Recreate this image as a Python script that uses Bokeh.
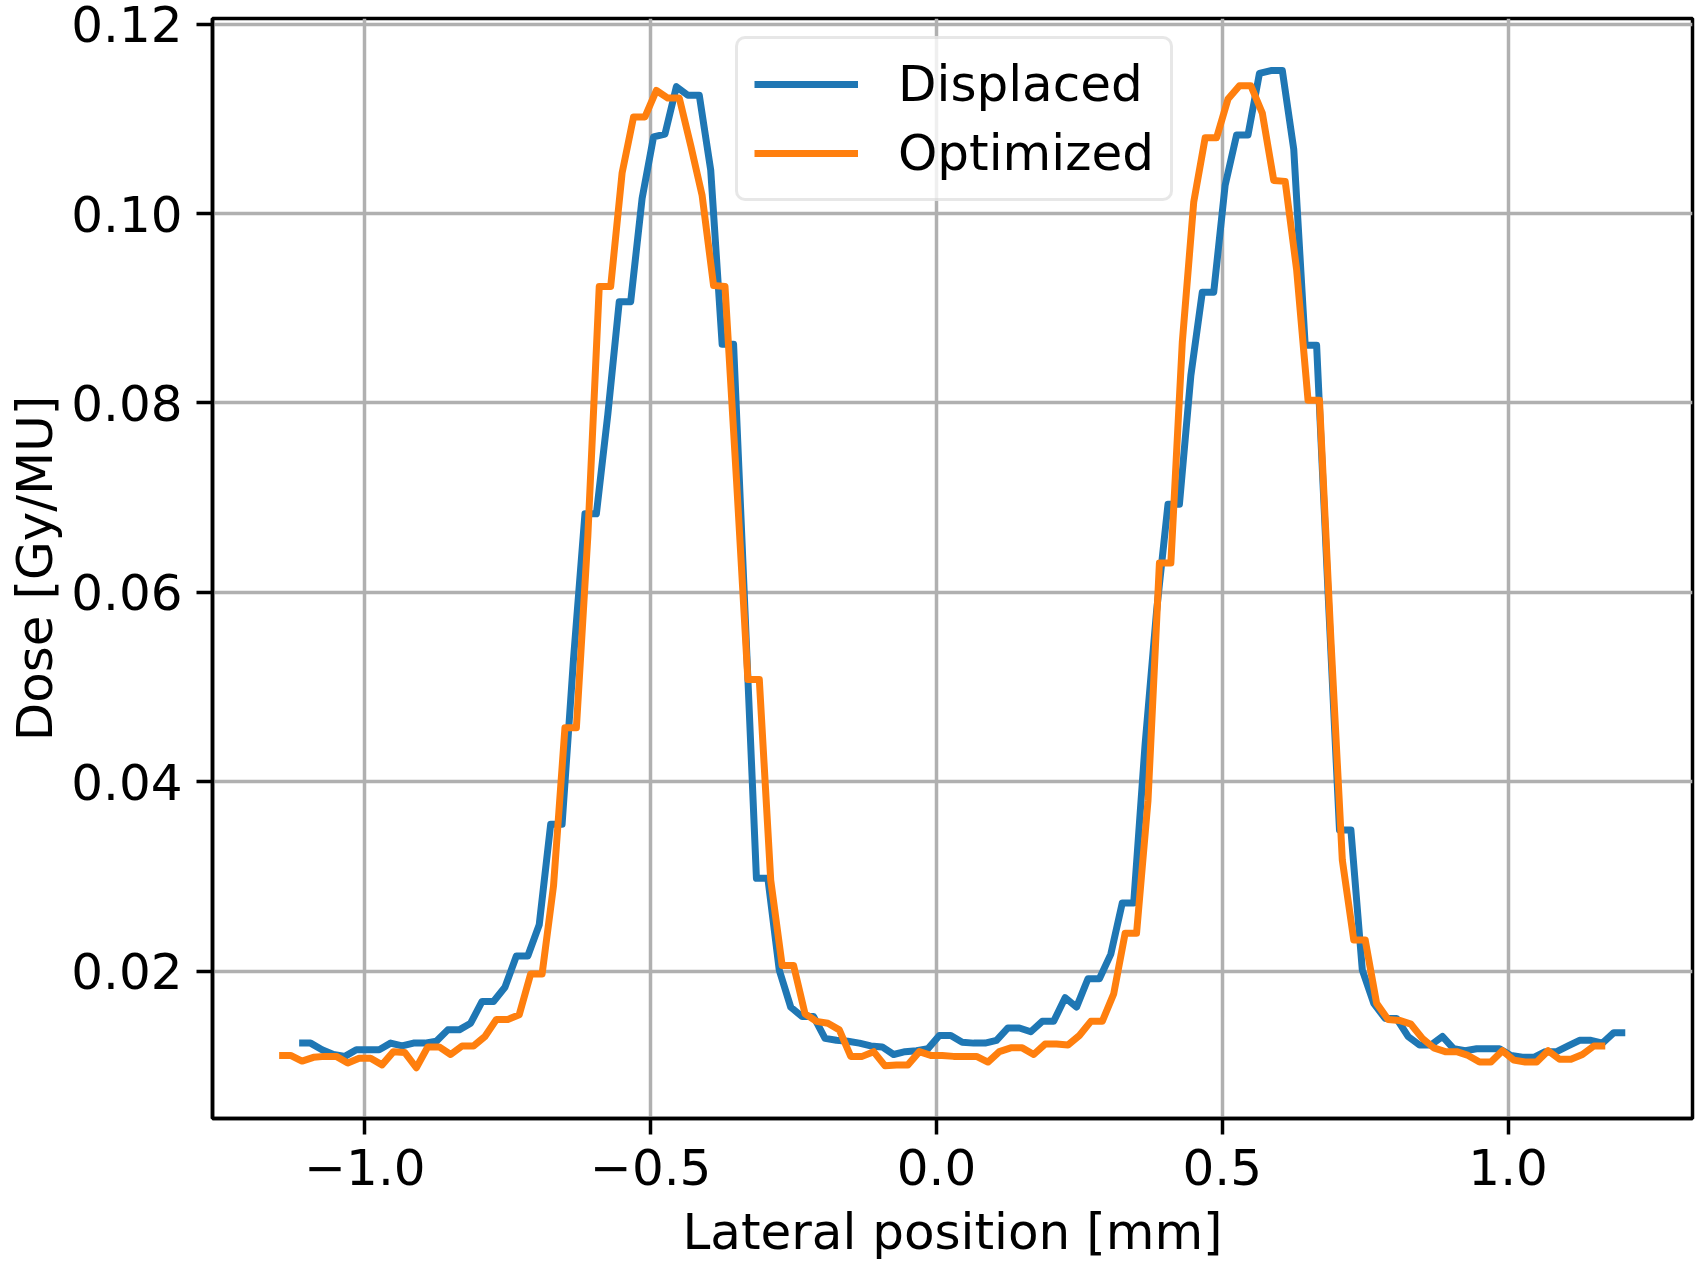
from bokeh.plotting import figure
from bokeh.models import Range1d, FixedTicker, CustomJSTickFormatter, Legend, LegendItem
from bokeh.embed import file_html
from bokeh.resources import INLINE

# Optimized profile (lateral position in mm, dose in Gy/MU)
opt_x = [
    -1.15, -1.13, -1.11, -1.09, -1.07, -1.05, -1.03, -1.01, -0.99, -0.97,
    -0.95, -0.93, -0.91, -0.89, -0.87, -0.85, -0.83, -0.81, -0.79, -0.77,
    -0.75, -0.73, -0.71, -0.69, -0.67, -0.65, -0.63, -0.61, -0.59, -0.57,
    -0.55, -0.53, -0.51, -0.49, -0.47, -0.45, -0.43, -0.41, -0.39, -0.37,
    -0.35, -0.33, -0.31, -0.29, -0.27, -0.25, -0.23, -0.21, -0.19, -0.17,
    -0.15, -0.13, -0.11, -0.09, -0.07, -0.05, -0.03, -0.01, 0.01, 0.03,
    0.05, 0.07, 0.09, 0.11, 0.13, 0.15, 0.17, 0.19, 0.21, 0.23,
    0.25, 0.27, 0.29, 0.31, 0.33, 0.35, 0.37, 0.39, 0.41, 0.43,
    0.45, 0.47, 0.49, 0.51, 0.53, 0.55, 0.57, 0.59, 0.61, 0.63,
    0.65, 0.67, 0.69, 0.71, 0.73, 0.75, 0.77, 0.79, 0.81, 0.83,
    0.85, 0.87, 0.89, 0.91, 0.93, 0.95, 0.97, 0.99, 1.01, 1.03,
    1.05, 1.07, 1.09, 1.11, 1.13, 1.15, 1.17,
]
opt_dose = [
    0.0111, 0.0111, 0.0105, 0.0109, 0.0110, 0.0110, 0.0103, 0.0108, 0.0108, 0.0101,
    0.0115, 0.0114, 0.0098, 0.0120, 0.0120, 0.0112, 0.0121, 0.0121, 0.0131, 0.0149,
    0.0149, 0.0154, 0.0197, 0.0197, 0.0290, 0.0457, 0.0457, 0.0659, 0.0923, 0.0923,
    0.1043, 0.1102, 0.1102, 0.1130, 0.1122, 0.1122, 0.1072, 0.1019, 0.0924, 0.0923,
    0.0720, 0.0508, 0.0508, 0.0296, 0.0206, 0.0206, 0.0155, 0.0147, 0.0145, 0.0138,
    0.0110, 0.0110, 0.0115, 0.0100, 0.0101, 0.0101, 0.0115, 0.0111, 0.0111, 0.0110,
    0.0110, 0.0110, 0.0104, 0.0115, 0.0119, 0.0119, 0.0112, 0.0123, 0.0123, 0.0122,
    0.0132, 0.0147, 0.0147, 0.0176, 0.0240, 0.0240, 0.0380, 0.0631, 0.0631, 0.0864,
    0.1012, 0.1080, 0.1080, 0.1121, 0.1135, 0.1135, 0.1106, 0.1035, 0.1034, 0.0941,
    0.0803, 0.0803, 0.0550, 0.0317, 0.0233, 0.0233, 0.0166, 0.0149, 0.0148, 0.0144,
    0.0129, 0.0119, 0.0115, 0.0115, 0.0111, 0.0104, 0.0104, 0.0116, 0.0106, 0.0104,
    0.0104, 0.0116, 0.0107, 0.0107, 0.0112, 0.0121, 0.0121,
]

# Displaced profile
disp_x = [
    -1.115, -1.095, -1.075, -1.055, -1.035, -1.015, -0.995, -0.975, -0.955, -0.935,
    -0.915, -0.895, -0.875, -0.855, -0.835, -0.815, -0.795, -0.775, -0.755, -0.735,
    -0.715, -0.695, -0.675, -0.655, -0.635, -0.615, -0.595, -0.575, -0.555, -0.535,
    -0.515, -0.495, -0.475, -0.455, -0.435, -0.415, -0.395, -0.375, -0.355, -0.335,
    -0.315, -0.295, -0.275, -0.255, -0.235, -0.215, -0.195, -0.175, -0.155, -0.135,
    -0.115, -0.095, -0.075, -0.055, -0.035, -0.015, 0.005, 0.025, 0.045, 0.065,
    0.085, 0.105, 0.125, 0.145, 0.165, 0.185, 0.205, 0.225, 0.245, 0.265,
    0.285, 0.305, 0.325, 0.345, 0.365, 0.385, 0.405, 0.425, 0.445, 0.465,
    0.485, 0.505, 0.525, 0.545, 0.565, 0.585, 0.605, 0.625, 0.645, 0.665,
    0.685, 0.705, 0.725, 0.745, 0.765, 0.785, 0.805, 0.825, 0.845, 0.865,
    0.885, 0.905, 0.925, 0.945, 0.965, 0.985, 1.005, 1.025, 1.045, 1.065,
    1.085, 1.105, 1.125, 1.145, 1.165, 1.185, 1.205,
]
disp_dose = [
    0.0124, 0.0124, 0.0117, 0.0112, 0.0110, 0.0117, 0.0117, 0.0117, 0.0124, 0.0121,
    0.0124, 0.0124, 0.0126, 0.0138, 0.0138, 0.0145, 0.0168, 0.0168, 0.0183, 0.0216,
    0.0216, 0.0249, 0.0355, 0.0355, 0.0530, 0.0683, 0.0683, 0.0788, 0.0907, 0.0907,
    0.1016, 0.1081, 0.1084, 0.1134, 0.1125, 0.1125, 0.1046, 0.0862, 0.0862, 0.0580,
    0.0298, 0.0298, 0.0201, 0.0162, 0.0152, 0.0152, 0.0129, 0.0127, 0.0126, 0.0124,
    0.0121, 0.0120, 0.0112, 0.0115, 0.0116, 0.0118, 0.0132, 0.0132, 0.0125, 0.0124,
    0.0124, 0.0127, 0.0140, 0.0140, 0.0136, 0.0147, 0.0147, 0.0172, 0.0162, 0.0192,
    0.0192, 0.0218, 0.0272, 0.0272, 0.0440, 0.0580, 0.0693, 0.0693, 0.0829, 0.0917,
    0.0917, 0.1030, 0.1083, 0.1083, 0.1148, 0.1151, 0.1151, 0.1068, 0.0861, 0.0861,
    0.0600, 0.0349, 0.0349, 0.0201, 0.0166, 0.0150, 0.0150, 0.0131, 0.0122, 0.0122,
    0.0131, 0.0118, 0.0116, 0.0118, 0.0118, 0.0118, 0.0111, 0.0109, 0.0109, 0.0115,
    0.0115, 0.0121, 0.0127, 0.0127, 0.0124, 0.0135, 0.0135,
]

x_ticks = [-1.0, -0.5, 0.0, 0.5, 1.0]
y_ticks = [0.02, 0.04, 0.06, 0.08, 0.10, 0.12]
series_names = ["Displaced", "Optimized"]
series_colors = ["#1f77b4", "#ff7f0e"]

FONT = "DejaVu Sans"
FS = "50px"

p = figure(
    frame_width=1480, frame_height=1100,
    x_range=Range1d(-1.2666, 1.3226), y_range=Range1d(0.00444, 0.1206),
    output_backend="svg", toolbar_location=None,
    min_border_left=212, min_border_right=4, min_border_top=18, min_border_bottom=140,
    background_fill_color="white", border_fill_color="white",
)

p.outline_line_color = "black"
p.outline_line_width = 3.5
p.outline_line_alpha = 1.0

for ax in (p.xaxis[0], p.yaxis[0]):
    ax.axis_line_width = 3.5
    ax.axis_line_color = "black"
    ax.major_tick_line_width = 3.5
    ax.major_tick_line_color = "black"
    ax.major_tick_out = 16
    ax.major_tick_in = 0
    ax.minor_tick_line_color = None
    ax.major_label_text_font = FONT
    ax.major_label_text_font_size = FS
    ax.major_label_text_color = "black"
    ax.axis_label_text_font = FONT
    ax.axis_label_text_font_size = FS
    ax.axis_label_text_font_style = "normal"
    ax.axis_label_text_color = "black"

p.xaxis[0].ticker = FixedTicker(ticks=x_ticks)
p.yaxis[0].ticker = FixedTicker(ticks=y_ticks)
p.xaxis[0].formatter = CustomJSTickFormatter(code="return tick.toFixed(1).replace('-', '\u2212');")
p.yaxis[0].formatter = CustomJSTickFormatter(code="return tick.toFixed(2);")
p.xaxis[0].axis_label = "Lateral position [mm]"
p.yaxis[0].axis_label = "Dose [Gy/MU]"
p.xaxis[0].major_label_standoff = 14
p.yaxis[0].major_label_standoff = 14
p.xaxis[0].axis_label_standoff = 15
p.yaxis[0].axis_label_standoff = 4

p.xgrid[0].ticker = FixedTicker(ticks=x_ticks)
p.ygrid[0].ticker = FixedTicker(ticks=y_ticks)
for g in (p.xgrid[0], p.ygrid[0]):
    g.grid_line_color = "#b0b0b0"
    g.grid_line_width = 3.5

r_disp = p.line(disp_x, disp_dose, line_color=series_colors[0], line_width=7, line_join="round")
r_opt = p.line(opt_x, opt_dose, line_color=series_colors[1], line_width=7, line_join="round")

legend = Legend(
    items=[LegendItem(label=series_names[0], renderers=[r_disp]),
           LegendItem(label=series_names[1], renderers=[r_opt])],
    location=(523, 917),
    label_text_font=FONT, label_text_font_size=FS, label_text_color="black",
    glyph_width=104, glyph_height=58, label_height=58, label_width=256,
    label_standoff=40, padding=16, spacing=11, margin=0,
    border_line_color="#d0d0d0", border_line_width=3.5,
    background_fill_color="white", background_fill_alpha=0.8,
)
try:
    legend.border_radius = 10
except Exception:
    pass
p.add_layout(legend, "center")

open("out.html", "w").write(file_html(p, INLINE))
